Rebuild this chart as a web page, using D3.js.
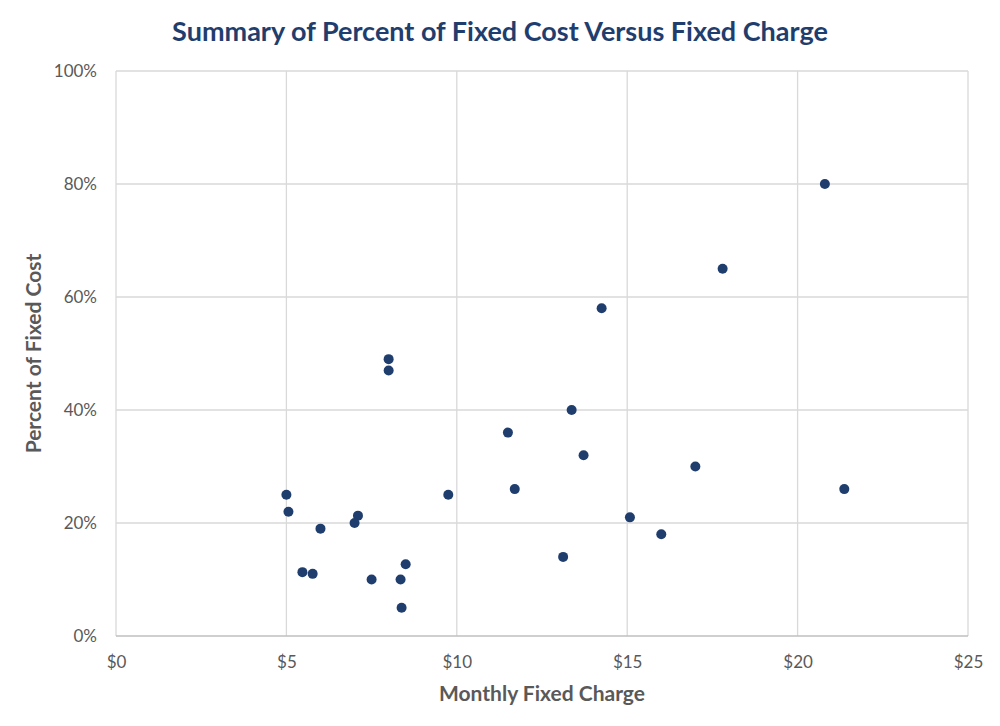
<!DOCTYPE html>
<html>
<head>
<meta charset="utf-8">
<script src="https://cdn.jsdelivr.net/npm/d3@7"></script>
<style>
  body { margin: 0; background: #fff; }
  text { font-family: Lato, "Open Sans", sans-serif; }
</style>
</head>
<body>
<div id="chart"></div>
<script>
//------------------------------------------------------------------------ Data
// monthly fixed charge ($) and percent of fixed cost (%)
var charge  = [20.8, 17.8, 14.25, 8.0, 8.0, 13.37, 11.5, 13.72, 17.0, 5.0, 9.75, 11.7, 21.37,
               5.06, 7.1, 15.08, 7.0, 6.0, 16.0, 13.12, 8.5, 5.47, 5.77, 7.5, 8.35, 8.38];
var percent = [80, 65, 58, 49, 47, 40, 36, 32, 30, 25, 25, 26, 26,
               22, 21.3, 21, 20, 19, 18, 14, 12.7, 11.3, 11, 10, 10, 5];
var xTicks = [0, 5, 10, 15, 20, 25];
var yTicks = [0, 20, 40, 60, 80, 100];

var titleText = "Summary of Percent of Fixed Cost Versus Fixed Charge";
var xTitle = "Monthly Fixed Charge";
var yTitle = "Percent of Fixed Cost";

//------------------------------------------------------------------------ Layout
var W = 1000, H = 726;
var margin = {top: 71, right: 32, bottom: 90, left: 116},
    width = W - margin.left - margin.right,
    height = H - margin.top - margin.bottom;

var colDot = "#1f3e6e";
var colGrid = "#d9d9d9";
var colText = "#595959";

var svg = d3.select("#chart").append("svg")
  .attr("width", W)
  .attr("height", H);

var g = svg.append("g").attr("transform", "translate(" + margin.left + "," + margin.top + ")");

var x = d3.scaleLinear().domain([0, 25]).range([0, width]);
var y = d3.scaleLinear().domain([0, 100]).range([height, 0]);

//gridlines
g.selectAll(".vgrid").data(xTicks).enter().append("line")
  .attr("x1", d => x(d)).attr("x2", d => x(d))
  .attr("y1", 0).attr("y2", height)
  .attr("stroke", colGrid).attr("stroke-width", 1.3);

g.selectAll(".hgrid").data(yTicks).enter().append("line")
  .attr("x1", 0).attr("x2", width)
  .attr("y1", d => y(d)).attr("y2", d => y(d))
  .attr("stroke", d => d === 0 ? "#bfbfbf" : colGrid).attr("stroke-width", 1.3);

//axes (labels only)
var xAxis = g.append("g")
  .attr("transform", "translate(0," + height + ")")
  .call(d3.axisBottom(x).tickValues(xTicks).tickFormat(d => "$" + d).tickSize(0).tickPadding(20));
var yAxis = g.append("g")
  .call(d3.axisLeft(y).tickValues(yTicks).tickFormat(d => d + "%").tickSize(0).tickPadding(19));

[xAxis, yAxis].forEach(function(a){
  a.select(".domain").remove();
  a.selectAll("text").attr("fill", colText).attr("font-size", "17px").attr("font-family", "Lato, sans-serif");
});

//points
var pts = charge.map((c, i) => ({x: c, y: percent[i]}));
g.selectAll("circle").data(pts).enter().append("circle")
  .attr("cx", d => x(d.x))
  .attr("cy", d => y(d.y))
  .attr("r", 5)
  .attr("fill", colDot);

//titles
svg.append("text")
  .attr("x", 500).attr("y", 41)
  .attr("text-anchor", "middle")
  .attr("font-size", "27px").attr("font-weight", "bold")
  .attr("fill", colDot)
  .text(titleText);

svg.append("text")
  .attr("x", margin.left + width / 2).attr("y", 701)
  .attr("text-anchor", "middle")
  .attr("font-size", "21px").attr("font-weight", "bold")
  .attr("fill", colText)
  .text(xTitle);

svg.append("text")
  .attr("transform", "translate(41," + (margin.top + height / 2) + ") rotate(-90)")
  .attr("text-anchor", "middle")
  .attr("font-size", "21px").attr("font-weight", "bold")
  .attr("fill", colText)
  .text(yTitle);
</script>
</body>
</html>
